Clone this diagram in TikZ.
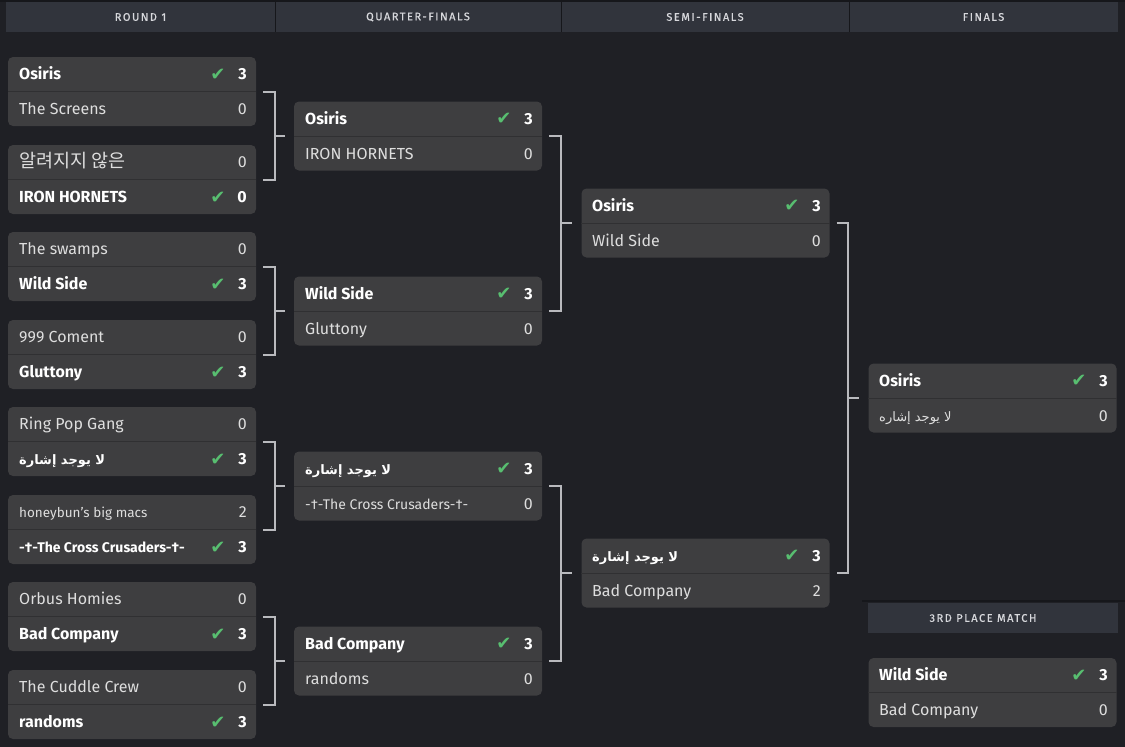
\documentclass[tikz,border=0pt]{standalone}
\usepackage{fontspec}
\setmainfont{Fira Sans}
\newfontfamily\arabicfont[Script=Arabic]{DejaVu Sans}
\newfontfamily\krfont{Noto Sans CJK KR}
\newfontfamily\symfont{DejaVu Sans}
\newfontfamily\headfont[LetterSpace=14,FakeBold=0.6]{Fira Sans}
\TeXXeTstate=1
\definecolor{bgdark}{RGB}{31,32,37}
\definecolor{headgrey}{RGB}{49,52,60}
\definecolor{headline}{RGB}{22,23,27}
\definecolor{headtext}{RGB}{215,216,220}
\definecolor{boxgrey}{RGB}{62,62,64}
\definecolor{rowgrey}{RGB}{48,48,50}
\definecolor{teamtext}{RGB}{222,222,222}
\definecolor{tickgreen}{RGB}{88,190,112}
\definecolor{bracketgrey}{RGB}{185,186,190}

\begin{document}
\begin{tikzpicture}[x=1pt,y=-1pt]
\tikzset{
  matchbox/.style={fill=boxgrey,rounded corners=5pt,minimum width=248pt,minimum height=69pt,inner sep=0pt},
  rowline/.style={draw=rowgrey,line width=1pt},
  team/.style={anchor=base west,inner sep=0pt,yshift=1.5pt,text=teamtext,font=\fontsize{16}{18}\selectfont},
  winner/.style={team,text=white,font=\fontsize{16}{18}\selectfont\bfseries},
  score/.style={anchor=base east,inner sep=0pt,yshift=1.5pt,text=teamtext,font=\fontsize{16}{18}\selectfont},
  winscore/.style={score,text=white,font=\fontsize{16}{18}\selectfont\bfseries},
  tick/.style={anchor=base,inner sep=0pt,yshift=1pt,text=tickgreen,font=\symfont\fontsize{18}{18}\selectfont},
  headcell/.style={fill=headgrey,minimum height=30pt,inner sep=0pt,text=headtext,font=\headfont\fontsize{11}{12}\selectfont},
  headlabel/.style={inner sep=0pt,text=headtext,font=\headfont\fontsize{11}{12}\selectfont},
  bracket/.style={draw=bracketgrey,line width=2pt}
}
\fill[bgdark] (0,0) rectangle (1125,747);
\useasboundingbox (0,0) rectangle (1125,747);

% column headers
\fill[headline] (0,0) rectangle (1125,2);
\node[headcell,minimum width=269pt] (h_r1) at (140.5,17) {ROUND 1};
\node[headcell,minimum width=286pt] (h_qf) at (418,17) {QUARTER-FINALS};
\node[headcell,minimum width=288pt] (h_sf) at (705,17) {SEMI-FINALS};
\node[headcell,minimum width=269pt] (h_f) at (983.5,17) {FINALS};
\draw[headline,line width=1pt] (h_r1.north east) -- (h_r1.south east);
\draw[headline,line width=1pt] (h_qf.north east) -- (h_qf.south east);
\draw[headline,line width=1pt] (h_sf.north east) -- (h_sf.south east);

% match boxes
\node[matchbox] (m_r1a) at (132,91.5) {};
\node[matchbox] (m_r1b) at (132,179.5) {};
\node[matchbox] (m_r1c) at (132,266.5) {};
\node[matchbox] (m_r1d) at (132,354.5) {};
\node[matchbox] (m_r1e) at (132,441.5) {};
\node[matchbox] (m_r1f) at (132,529.5) {};
\node[matchbox] (m_r1g) at (132,616.5) {};
\node[matchbox] (m_r1h) at (132,704.5) {};
\node[matchbox] (m_qf1) at (418,136) {};
\node[matchbox] (m_qf2) at (418,311) {};
\node[matchbox] (m_qf3) at (418,486) {};
\node[matchbox] (m_qf4) at (418,661) {};
\node[matchbox] (m_sf1) at (705.5,223) {};
\node[matchbox] (m_sf2) at (705.5,573) {};
\node[matchbox] (m_f) at (992.5,398) {};
\node[matchbox] (m_3rd) at (992.5,692.5) {};
\foreach \m in {r1a,r1b,r1c,r1d,r1e,r1f,r1g,r1h,qf1,qf2,qf3,qf4,sf1,sf2,f,3rd}
  \draw[rowline] (m_\m.west) -- (m_\m.east);

% third place header
\fill[headline] (862,600) rectangle (1125,602);
\node[headcell,minimum width=250pt] (h_3rd) at (993,618) {};
\node[headlabel] (h_3rdtext) at (983,618) {3RD PLACE MATCH};

% round 1
\node[winner] (t_r1a1) at (19,81) {Osiris};
\node[tick] (k_r1a) at (218,81) {✔};
\node[winscore] (s_r1a1) at (247,81) {3};
\node[team] (t_r1a2) at (19,116) {The Screens};
\node[score] (s_r1a2) at (247,116) {0};
\node[team] (t_r1b1) at (19,169) {\krfont\fontsize{18.5}{19}\selectfont 알려지지 않은};
\node[score] (s_r1b1) at (247,169) {0};
\node[winner] (t_r1b2) at (19,204) {IRON HORNETS};
\node[tick] (k_r1b) at (218,204) {✔};
\node[winscore] (s_r1b2) at (247,204) {0};
\node[team] (t_r1c1) at (19,256) {The swamps};
\node[score] (s_r1c1) at (247,256) {0};
\node[winner] (t_r1c2) at (19,291) {Wild Side};
\node[tick] (k_r1c) at (218,291) {✔};
\node[winscore] (s_r1c2) at (247,291) {3};
\node[team] (t_r1d1) at (19,344) {999 Coment};
\node[score] (s_r1d1) at (247,344) {0};
\node[winner] (t_r1d2) at (19,379) {Gluttony};
\node[tick] (k_r1d) at (218,379) {✔};
\node[winscore] (s_r1d2) at (247,379) {3};
\node[team] (t_r1e1) at (19,431) {Ring Pop Gang};
\node[score] (s_r1e1) at (247,431) {0};
\node[winner] (t_r1e2) at (19,466) {\arabicfont\bfseries\fontsize{13}{14}\selectfont\beginR لا يوجد إشارة\endR};
\node[tick] (k_r1e) at (218,466) {✔};
\node[winscore] (s_r1e2) at (247,466) {3};
\node[team] (t_r1f1) at (19,519) {\fontsize{13.5}{15}\selectfont honeybun's big macs};
\node[score] (s_r1f1) at (247,519) {2};
\node[winner] (t_r1f2) at (19,554) {\fontsize{14}{15}\selectfont -†-The Cross Crusaders-†-};
\node[tick] (k_r1f) at (218,554) {✔};
\node[winscore] (s_r1f2) at (247,554) {3};
\node[team] (t_r1g1) at (19,606) {Orbus Homies};
\node[score] (s_r1g1) at (247,606) {0};
\node[winner] (t_r1g2) at (19,641) {Bad Company};
\node[tick] (k_r1g) at (218,641) {✔};
\node[winscore] (s_r1g2) at (247,641) {3};
\node[team] (t_r1h1) at (19,694) {The Cuddle Crew};
\node[score] (s_r1h1) at (247,694) {0};
\node[winner] (t_r1h2) at (19,729) {randoms};
\node[tick] (k_r1h) at (218,729) {✔};
\node[winscore] (s_r1h2) at (247,729) {3};

% quarter-finals
\node[winner] (t_qf11) at (305,125.5) {Osiris};
\node[tick] (k_qf1) at (504,125.5) {✔};
\node[winscore] (s_qf11) at (533,125.5) {3};
\node[team] (t_qf12) at (305,160.5) {IRON HORNETS};
\node[score] (s_qf12) at (533,160.5) {0};
\node[winner] (t_qf21) at (305,300.5) {Wild Side};
\node[tick] (k_qf2) at (504,300.5) {✔};
\node[winscore] (s_qf21) at (533,300.5) {3};
\node[team] (t_qf22) at (305,335.5) {Gluttony};
\node[score] (s_qf22) at (533,335.5) {0};
\node[winner] (t_qf31) at (305,475.5) {\arabicfont\bfseries\fontsize{13}{14}\selectfont\beginR لا يوجد إشارة\endR};
\node[tick] (k_qf3) at (504,475.5) {✔};
\node[winscore] (s_qf31) at (533,475.5) {3};
\node[team] (t_qf32) at (305,510.5) {\fontsize{14}{15}\selectfont -†-The Cross Crusaders-†-};
\node[score] (s_qf32) at (533,510.5) {0};
\node[winner] (t_qf41) at (305,650.5) {Bad Company};
\node[tick] (k_qf4) at (504,650.5) {✔};
\node[winscore] (s_qf41) at (533,650.5) {3};
\node[team] (t_qf42) at (305,685.5) {randoms};
\node[score] (s_qf42) at (533,685.5) {0};

% semi-finals
\node[winner] (t_sf11) at (592,212.5) {Osiris};
\node[tick] (k_sf1) at (792,212.5) {✔};
\node[winscore] (s_sf11) at (821,212.5) {3};
\node[team] (t_sf12) at (592,247.5) {Wild Side};
\node[score] (s_sf12) at (821,247.5) {0};
\node[winner] (t_sf21) at (592,562.5) {\arabicfont\bfseries\fontsize{13}{14}\selectfont\beginR لا يوجد إشارة\endR};
\node[tick] (k_sf2) at (792,562.5) {✔};
\node[winscore] (s_sf21) at (821,562.5) {3};
\node[team] (t_sf22) at (592,597.5) {Bad Company};
\node[score] (s_sf22) at (821,597.5) {2};

% finals
\node[winner] (t_f1) at (879,387.5) {Osiris};
\node[tick] (k_f) at (1079,387.5) {✔};
\node[winscore] (s_f1) at (1108,387.5) {3};
\node[team] (t_f2) at (879,422.5) {\arabicfont\fontsize{13}{14}\selectfont\beginR لا يوجد إشاره\endR};
\node[score] (s_f2) at (1108,422.5) {0};

% third place
\node[winner] (t_3rd1) at (879,682) {Wild Side};
\node[tick] (k_3rd) at (1079,682) {✔};
\node[winscore] (s_3rd1) at (1108,682) {3};
\node[team] (t_3rd2) at (879,717) {Bad Company};
\node[score] (s_3rd2) at (1108,717) {0};

% brackets
\draw[bracket] ([xshift=7]m_r1a.east) -| ([xshift=19]m_r1b.east) -- ([xshift=7]m_r1b.east);
\draw[bracket] ([xshift=7]m_r1c.east) -| ([xshift=19]m_r1d.east) -- ([xshift=7]m_r1d.east);
\draw[bracket] ([xshift=7]m_r1e.east) -| ([xshift=19]m_r1f.east) -- ([xshift=7]m_r1f.east);
\draw[bracket] ([xshift=7]m_r1g.east) -| ([xshift=19]m_r1h.east) -- ([xshift=7]m_r1h.east);
\draw[bracket] ([xshift=-19]m_qf1.west) -- ([xshift=-9]m_qf1.west);
\draw[bracket] ([xshift=-19]m_qf2.west) -- ([xshift=-9]m_qf2.west);
\draw[bracket] ([xshift=-19]m_qf3.west) -- ([xshift=-9]m_qf3.west);
\draw[bracket] ([xshift=-19]m_qf4.west) -- ([xshift=-9]m_qf4.west);
\draw[bracket] ([xshift=7]m_qf1.east) -| ([xshift=19]m_qf2.east) -- ([xshift=7]m_qf2.east);
\draw[bracket] ([xshift=7]m_qf3.east) -| ([xshift=19]m_qf4.east) -- ([xshift=7]m_qf4.east);
\draw[bracket] ([xshift=-20]m_sf1.west) -- ([xshift=-9]m_sf1.west);
\draw[bracket] ([xshift=-20]m_sf2.west) -- ([xshift=-9]m_sf2.west);
\draw[bracket] ([xshift=7]m_sf1.east) -| ([xshift=18]m_sf2.east) -- ([xshift=7]m_sf2.east);
\draw[bracket] ([xshift=-20]m_f.west) -- ([xshift=-9]m_f.west);
\end{tikzpicture}
\end{document}
